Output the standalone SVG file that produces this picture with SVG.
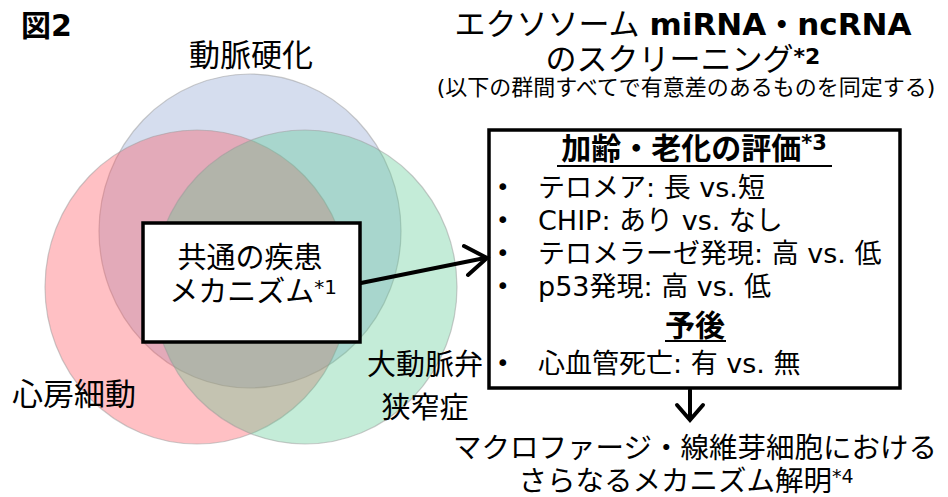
<svg xmlns="http://www.w3.org/2000/svg" width="948" height="497" viewBox="0 0 948 497">
<style>
text { font-family: "DejaVu Sans", "Noto Sans CJK JP", sans-serif; fill: #000; }
.jp { font-family: "Noto Sans CJK JP", sans-serif; }
.venn { stroke: #9a9a9a; stroke-opacity: 0.5; stroke-width: 1.2; fill-opacity: 0.35; }
.box { fill: #fff; stroke: #000; stroke-width: 3.5; }
.lbl { font-size: 31px; text-anchor: middle; }
.item { font-size: 27px; }
.bul { font-size: 23px; }
.conn { fill: none; stroke: #000; stroke-width: 4; stroke-linecap: round; stroke-linejoin: miter; }
</style>
<rect width="948" height="497" fill="#fff"/>

<g id="venn">
  <g id="atherosclerosis">
    <ellipse class="venn" cx="250" cy="231" rx="151" ry="157" fill="#879ece"/>
    <text class="lbl jp" x="251" y="66">動脈硬化</text>
  </g>
  <g id="af">
    <ellipse class="venn" cx="197" cy="287" rx="152" ry="157" fill="#ff4b56"/>
    <text class="lbl jp" x="74" y="405">心房細動</text>
  </g>
  <g id="as">
    <ellipse class="venn" cx="305" cy="287" rx="152" ry="157" fill="#56c990"/>
    <text class="jp" x="425" y="375" font-size="29" text-anchor="middle">大動脈弁</text>
    <text class="jp" x="425" y="418" font-size="29" text-anchor="middle">狭窄症</text>
  </g>
</g>

<text x="21" y="36" font-size="30" font-weight="bold">図2</text>

<g id="common">
  <rect class="box" x="143" y="223" width="217" height="119"/>
  <text x="250" y="268" font-size="29" text-anchor="middle">共通の疾患</text>
  <text x="253" y="302" font-size="29" text-anchor="middle">メカニズム<tspan font-size="20" dy="-8">*1</tspan></text>
</g>

<g id="screening">
  <text x="683" y="35" font-size="31" text-anchor="middle">エクソソーム <tspan font-weight="bold">miRNA・ncRNA</tspan></text>
  <text x="683" y="70" font-size="31" text-anchor="middle">のスクリーニング<tspan font-weight="bold" font-size="22" dy="-6">*2</tspan></text>
  <text x="686" y="95" font-size="22" text-anchor="middle">(以下の群間すべてで有意差のあるものを同定する)</text>
</g>

<g id="evaluation">
  <rect class="box" x="489" y="130" width="411" height="258"/>
  <text x="694" y="159" font-size="30" font-weight="bold" text-anchor="middle">加齢・老化の評価<tspan font-size="21" dy="-9">*3</tspan></text>
  <rect x="557" y="165" width="275" height="2" fill="#000"/>
  <text class="bul" x="496" y="195">•</text>
  <text class="item" x="538" y="197">テロメア: 長 vs.短</text>
  <text class="bul" x="496" y="228">•</text>
  <text class="item" x="538" y="230">CHIP: あり vs. なし</text>
  <text class="bul" x="496" y="261">•</text>
  <text class="item" x="538" y="263">テロメラーゼ発現: 高 vs. 低</text>
  <text class="bul" x="496" y="294">•</text>
  <text class="item" x="538" y="296">p53発現: 高 vs. 低</text>
  <text x="695" y="336" font-size="30" font-weight="bold" text-anchor="middle">予後</text>
  <rect x="665" y="340" width="61" height="2" fill="#000"/>
  <text class="bul" x="496" y="371">•</text>
  <text class="item" x="538" y="373">心血管死亡: 有 vs. 無</text>
</g>

<g id="mechanism">
  <text x="695" y="458" font-size="28.5" text-anchor="middle">マクロファージ・線維芽細胞における</text>
  <text x="686" y="491" font-size="28.5" text-anchor="middle">さらなるメカニズム解明<tspan font-size="19" dy="-8">*4</tspan></text>
</g>

<g id="connectors">
  <line class="conn" x1="361" y1="283" x2="485" y2="258"/>
  <polyline class="conn" points="464,246 487,258 468,275"/>
  <line class="conn" x1="690" y1="390" x2="690" y2="418"/>
  <polyline class="conn" points="677,405 690,420 703,405"/>
</g>
</svg>
